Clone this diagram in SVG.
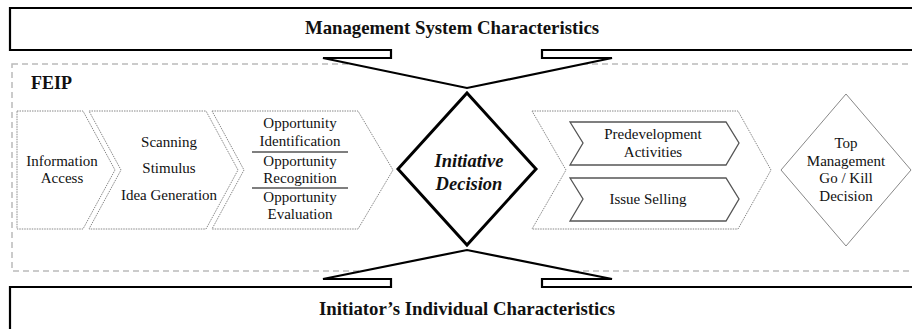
<svg xmlns="http://www.w3.org/2000/svg" width="912" height="329" viewBox="0 0 912 329">
<style>
text{font-family:'Liberation Serif','Tinos','Times New Roman','DejaVu Serif',serif}
.t{font-size:15px;fill:#111;text-anchor:middle}
.b{font-size:18.8px;font-weight:bold;fill:#111;text-anchor:middle}
.bi{font-size:18.5px;font-weight:bold;font-style:italic;fill:#111;text-anchor:middle}
.chev{fill:#fff;stroke:#888;stroke-width:1;stroke-dasharray:1.5 1}
.inner{fill:#fff;stroke:#555;stroke-width:1.3}
.callout{fill:#fff;stroke:#000;stroke-width:2.2;stroke-linejoin:miter}
.div{stroke:#555;stroke-width:1.5}
</style>
<rect width="912" height="329" fill="#fff"/>
<g id="feip">
<rect x="12" y="64" width="920" height="207" fill="none" stroke="#bbb" stroke-width="1.5" stroke-dasharray="6 4"/>
<text class="b" x="31" y="89" style="text-anchor:start;font-size:18px">FEIP</text>
</g>
<g id="mgmt">
<path class="callout" d="M920 8 L10 8 L10 50 L391 50 L391 58 L323 58 L467 88 L612 58 L542 58 L542 50 L920 50"/>
<text class="b" x="452" y="34">Management System Characteristics</text>
</g>
<g id="initiator">
<path class="callout" d="M920 340 L10 340 L10 287 L391 287 L391 279 L323 279 L467 250 L612 279 L542 279 L542 287 L920 287"/>
<text class="b" x="467" y="315">Initiator’s Individual Characteristics</text>
</g>
<g id="info">
<polygon class="chev" points="17,111 83,111 115,170 83,229 17,229"/>
<text class="t" x="62" y="166">Information</text>
<text class="t" x="62" y="183">Access</text>
</g>
<g id="scanning">
<polygon class="chev" points="89,111 206,111 238,170 206,229 89,229 121,170"/>
<text class="t" x="169" y="147">Scanning</text>
<text class="t" x="169" y="173">Stimulus</text>
<text class="t" x="169" y="200">Idea Generation</text>
</g>
<g id="opportunity">
<polygon class="chev" points="212,111 358,111 393,170 358,229 212,229 244,170"/>
<text class="t" x="300" y="128">Opportunity</text>
<text class="t" x="300" y="146">Identification</text>
<line class="div" x1="252" y1="152" x2="348" y2="152"/>
<text class="t" x="300" y="166">Opportunity</text>
<text class="t" x="300" y="183">Recognition</text>
<line class="div" x1="252" y1="188" x2="348" y2="188"/>
<text class="t" x="300" y="202">Opportunity</text>
<text class="t" x="300" y="219">Evaluation</text>
</g>
<g id="initiative">
<polygon points="467,93 536,169 467,245 398,169" fill="#fff" stroke="#000" stroke-width="3"/>
<text class="bi" x="469" y="167">Initiative</text>
<text class="bi" x="469" y="190">Decision</text>
</g>
<g id="predev-group">
<polygon class="chev" points="532,111 738,111 771,170 738,229 532,229 566,170"/>
</g>
<g id="predev">
<polygon class="inner" points="570,122 726,122 739,143 726,165 570,165 583,143"/>
<text class="t" x="653" y="139">Predevelopment</text>
<text class="t" x="653" y="157">Activities</text>
</g>
<g id="issue">
<polygon class="inner" points="570,178 726,178 739,199 726,221 570,221 583,199"/>
<text class="t" x="648" y="204">Issue Selling</text>
</g>
<g id="topmgmt">
<polygon points="846,94 911,170 846,246 781,170" fill="#fff" stroke="#888" stroke-width="1"/>
<text class="t" x="846" y="148">Top</text>
<text class="t" x="846" y="166">Management</text>
<text class="t" x="846" y="183">Go / Kill</text>
<text class="t" x="846" y="201">Decision</text>
</g>
<g id="connectors"></g>
</svg>
